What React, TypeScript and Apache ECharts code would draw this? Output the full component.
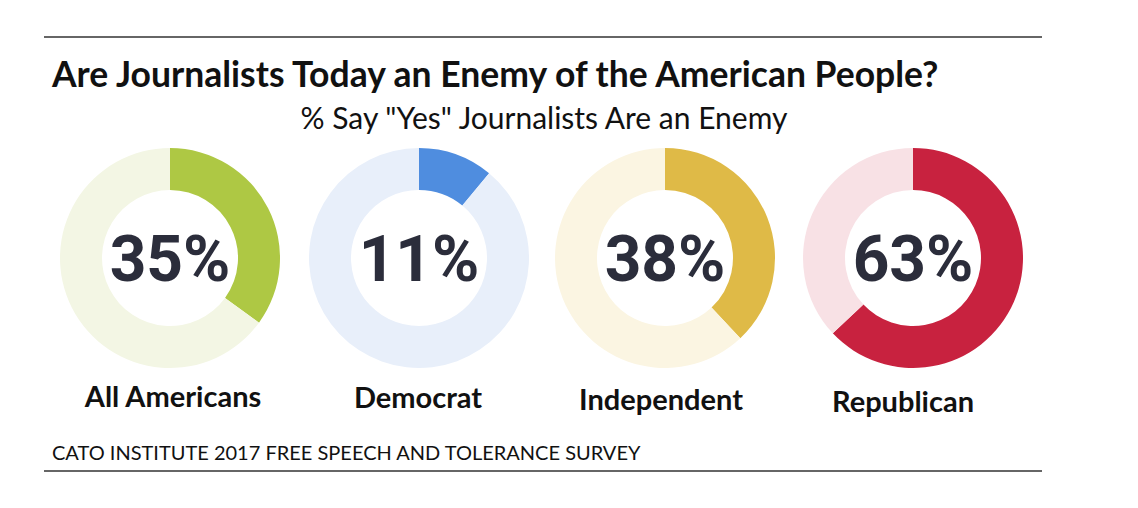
import React, { useEffect, useRef } from "react";
import * as echarts from "echarts";

const groups = ["All Americans", "Democrat", "Independent", "Republican"];
const yesValues = [35, 11, 38, 63];
const mainColors = ["#aec844", "#4f8ddf", "#dfba47", "#c8223f"];
const lightColors = ["#f3f6e4", "#e8effa", "#fbf5e2", "#f8e1e5"];
const centersX = [170, 419, 665, 913];
const labelX = [173, 418, 661, 903];
const labelY = [395, 396, 398, 400];

export default function App() {
  const ref = useRef<HTMLDivElement>(null);
  useEffect(() => {
    document.body.style.margin = "0";
    const chart = echarts.init(ref.current!, null, { renderer: "svg" });
    const series = yesValues.map((v, i) => ({
      type: "pie",
      center: [centersX[i], 258],
      radius: [68, 110],
      startAngle: 90,
      clockwise: true,
      silent: true,
      label: { show: false },
      labelLine: { show: false },
      data: [
        { name: groups[i] + " yes", value: v, itemStyle: { color: mainColors[i] } },
        { name: groups[i] + " no", value: 100 - v, itemStyle: { color: lightColors[i] } },
      ],
    }));
    const texts: any[] = [
      {
        type: "text",
        x: 52,
        y: 73,
        style: { text: "Are Journalists Today an Enemy of the American People?", font: "bold 35.5px Lato", fill: "#111", verticalAlign: "middle" },
      },
      {
        type: "text",
        x: 544,
        y: 117,
        style: { text: '% Say "Yes" Journalists Are an Enemy', font: "30px Lato", fill: "#111", align: "center", verticalAlign: "middle" },
      },
      {
        type: "text",
        x: 52,
        y: 452,
        style: { text: "CATO INSTITUTE 2017 FREE SPEECH AND TOLERANCE SURVEY", font: "20px Lato", fill: "#111", verticalAlign: "middle" },
      },
      { type: "line", shape: { x1: 44, y1: 37, x2: 1042, y2: 37 }, style: { stroke: "#333", lineWidth: 1.5 } },
      { type: "line", shape: { x1: 44, y1: 471, x2: 1042, y2: 471 }, style: { stroke: "#333", lineWidth: 1.5 } },
    ];
    yesValues.forEach((v, i) => {
      texts.push({
        type: "text",
        x: centersX[i],
        y: 259,
        style: {
          text: v + "%",
          font: "bold 64px Roboto",
          fill: "#2b2d3b",
          align: "center",
          verticalAlign: "middle",
        },
      });
      texts.push({
        type: "text",
        x: labelX[i],
        y: labelY[i],
        style: {
          text: groups[i],
          font: "bold 29px Lato",
          fill: "#111",
          align: "center",
          verticalAlign: "middle",
        },
      });
    });
    chart.setOption({
      animation: false,
      backgroundColor: "#fff",
      series,
      graphic: texts,
    });
    return () => chart.dispose();
  }, []);
  return <div ref={ref} style={{ width: 1138, height: 508 }} />;
}
